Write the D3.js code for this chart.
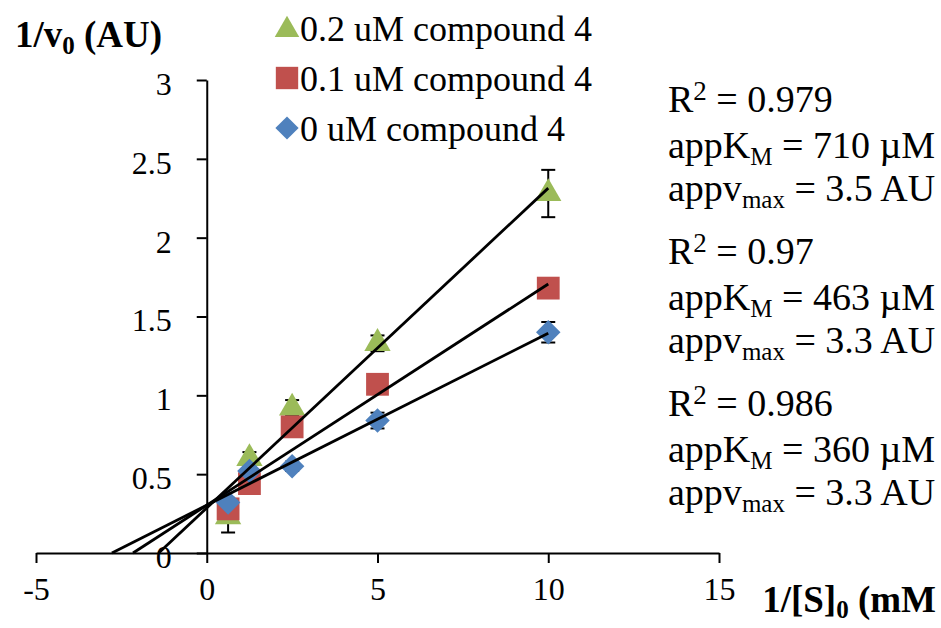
<!DOCTYPE html>
<html>
<head>
<meta charset="UTF-8">
<script src="https://cdnjs.cloudflare.com/ajax/libs/d3/7.8.2/d3.min.js"></script>
<style>
    body { margin: 0; padding: 0; background: #ffffff; }
    .axis path, .axis line { stroke: #000; stroke-width: 2px; }
    .axis text { font-size: 32px; fill: #000; }
    .ann { font-size: 38px; fill: #000; }
    .legend text { font-size: 36px; fill: #000; }
    .title { font-size: 37px; font-weight: bold; fill: #000; }
</style>
</head>
<body>
<svg width="941" height="628"></svg>
<script>
// 1/[S]0 values (mM^-1)
const xValues = [0.625, 1.25, 2.5, 5, 10];

const seriesNames = ["0.2 uM compound 4", "0.1 uM compound 4", "0 uM compound 4"];
const seriesColors = ["#9bbb59", "#c0504d", "#4f81bd"];
const seriesShapes = ["triangle", "square", "diamond"];

// 1/v0 values (AU) and error bars
const green = [0.23, 0.60, 0.92, 1.33, 2.28];
const greenErr = [0.10, 0.04, 0.05, 0.05, 0.15];
const red = [0.28, 0.44, 0.80, 1.07, 1.68];
const redErr = [0.03, 0.03, 0.03, 0.03, 0.03];
const blue = [0.32, 0.52, 0.55, 0.84, 1.40];
const blueErr = [0.03, 0.03, 0.03, 0.05, 0.065];

// fitted parameters (Lineweaver-Burk)
const kmValues = [0.710, 0.463, 0.360];   // mM
const vmaxValues = [3.5, 3.3, 3.3];       // AU
const r2Labels = ["0.979", "0.97", "0.986"];
const kmLabels = ["710", "463", "360"];
const vmaxLabels = ["3.5", "3.3", "3.3"];

const xTicks = [-5, 0, 5, 10, 15];
const yTicks = [0, 0.5, 1, 1.5, 2, 2.5, 3];

const FONT = "'Liberation Serif', 'Times New Roman', serif";
const fmt = d => String(d);

const svg = d3.select("svg");

const x = d3.scaleLinear().domain([-5, 15]).range([36, 719]);
const y = d3.scaleLinear().domain([0, 3]).range([553, 80]);

// axes
svg.append("g")
    .attr("class", "axis")
    .attr("transform", `translate(0,${y(0)})`)
    .call(d3.axisBottom(x).tickValues(xTicks).tickSize(10).tickSizeOuter(0).tickPadding(14).tickFormat(fmt))
    .attr("font-family", FONT);

const yAxis = svg.append("g")
    .attr("class", "axis")
    .attr("transform", `translate(${x(0)},0)`)
    .call(d3.axisLeft(y).tickValues(yTicks).tickSize(10).tickSizeOuter(0).tickPadding(25).tickFormat(fmt))
    .attr("font-family", FONT);
yAxis.selectAll("text").attr("dy", "0.45em");

const series = [
    { vals: green, err: greenErr },
    { vals: red, err: redErr },
    { vals: blue, err: blueErr }
];

const symbolFor = {
    triangle: d3.symbol().type(d3.symbolTriangle).size(300),
    square: d3.symbol().type(d3.symbolSquare).size(520),
    diamond: d3.symbol().type(d3.symbolSquare).size(300)
};

// error bars
series.forEach(s => {
    const g = svg.append("g").attr("stroke", "#000").attr("stroke-width", 2);
    xValues.forEach((xv, i) => {
        const lo = y(s.vals[i] - s.err[i]), hi = y(s.vals[i] + s.err[i]), cx = x(xv);
        g.append("line").attr("x1", cx).attr("x2", cx).attr("y1", lo).attr("y2", hi);
        g.append("line").attr("x1", cx - 7).attr("x2", cx + 7).attr("y1", lo).attr("y2", lo);
        g.append("line").attr("x1", cx - 7).attr("x2", cx + 7).attr("y1", hi).attr("y2", hi);
    });
});

// markers
series.forEach((s, k) => {
    xValues.forEach((xv, i) => {
        const t = `translate(${x(xv)},${y(s.vals[i])})`;
        svg.append("path")
            .attr("d", symbolFor[seriesShapes[k]]())
            .attr("fill", seriesColors[k])
            .attr("transform", t + (seriesShapes[k] === "diamond" ? " rotate(45)" : ""));
    });
});

// trend lines: 1/v = 1/vmax + (Km/vmax) * 1/[S], from x-intercept to last point
kmValues.forEach((km, k) => {
    const vmax = vmaxValues[k];
    const f = xv => 1 / vmax + (km / vmax) * xv;
    const x0 = -1 / km, x1 = d3.max(xValues);
    svg.append("line")
        .attr("x1", x(x0)).attr("y1", y(f(x0)))
        .attr("x2", x(x1)).attr("y2", y(f(x1)))
        .attr("stroke", "#000").attr("stroke-width", 2.8);
});

// legend
const legend = svg.append("g").attr("class", "legend");
seriesNames.forEach((name, k) => {
    const cy = 28 + k * 50;
    legend.append("path")
        .attr("d", d3.symbol().type(seriesShapes[k] === "triangle" ? d3.symbolTriangle : d3.symbolSquare)
            .size(seriesShapes[k] === "square" ? 500 : (seriesShapes[k] === "triangle" ? 260 : 270))())
        .attr("fill", seriesColors[k])
        .attr("transform", `translate(287,${cy + (seriesShapes[k] === "triangle" ? 2 : 0)})` + (seriesShapes[k] === "diamond" ? " rotate(45)" : ""));
    legend.append("text").attr("x", 300).attr("y", cy + 13).text(name);
});

// axis titles
const yt = svg.append("text").attr("class", "title").attr("x", 15).attr("y", 47);
yt.append("tspan").text("1/v");
yt.append("tspan").attr("font-size", "25px").attr("dy", 7).text("0");
yt.append("tspan").attr("dy", -7).text(" (AU)");

// the x title runs off the right edge in the original; keep the visible part
const xt = svg.append("text").attr("class", "title").attr("x", 936).attr("y", 612)
    .attr("text-anchor", "end").attr("font-size", "38px");
xt.append("tspan").text("1/[S]");
xt.append("tspan").attr("font-size", "25px").attr("dy", 6).text("0");
xt.append("tspan").attr("dy", -6).text(" (mM");

// fit annotations
const ann = svg.append("g").attr("class", "ann");
r2Labels.forEach((r2, k) => {
    const top = 112 + k * 152;
    const t1 = ann.append("text").attr("x", 668).attr("y", top);
    t1.append("tspan").text("R");
    t1.append("tspan").attr("font-size", "27px").attr("dy", -12).text("2");
    t1.append("tspan").attr("dy", 12).text(" = " + r2);

    const t2 = ann.append("text").attr("x", 668).attr("y", top + 46);
    t2.append("tspan").text("appK");
    t2.append("tspan").attr("font-size", "25px").attr("dy", 7).text("M");
    t2.append("tspan").attr("dy", -7).text(" = " + kmLabels[k] + " \u00b5M");

    const t3 = ann.append("text").attr("x", 668).attr("y", top + 89);
    t3.append("tspan").text("appv");
    t3.append("tspan").attr("font-size", "25px").attr("dy", 7).text("max");
    t3.append("tspan").attr("dy", -7).text(" = " + vmaxLabels[k] + " AU");
});

svg.selectAll("text").attr("font-family", FONT);
</script>
</body>
</html>
